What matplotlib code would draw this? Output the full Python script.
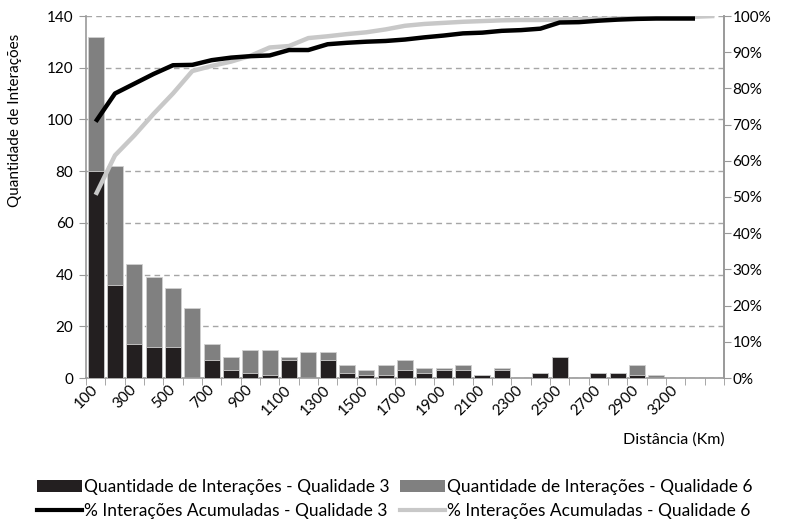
import numpy as np
import matplotlib
matplotlib.use("Agg")
import matplotlib.pyplot as plt
from matplotlib.ticker import PercentFormatter, FixedLocator
from matplotlib.patches import Patch
from matplotlib.lines import Line2D

plt.rcParams['font.family'] = ['Lato', 'DejaVu Sans']

# categorias de distância (Km); só as pares aparecem no eixo
distancias = ["100", "200", "300", "400", "500", "600", "700", "800", "900", "1000",
              "1100", "1200", "1300", "1400", "1500", "1600", "1700", "1800", "1900", "2000",
              "2100", "2200", "2300", "2400", "2500", "2600", "2700", "2800", "2900", "3000",
              "3200", "3300", ""]

qtd_q6 = [132, 82, 44, 39, 35, 27, 13, 8, 11, 11, 8, 10, 10, 5, 3, 5, 7, 4, 4, 5,
          1, 4, 0, 2, 8, 0, 2, 2, 5, 1, 0, 0, 0]
qtd_q3 = [80, 36, 13, 12, 12, 0, 7, 3, 2, 1, 7, 0, 7, 2, 1, 1, 3, 2, 3, 3,
          1, 3, 0, 2, 8, 0, 2, 2, 1, 0, 0, 0, 0]

acum_q3 = [70.8, 78.6, 81.3, 84.0, 86.4, 86.5, 87.8, 88.5, 88.9, 89.1, 90.6, 90.6, 92.2,
           92.6, 92.9, 93.1, 93.5, 94.1, 94.6, 95.2, 95.4, 95.9, 96.1, 96.5, 98.2, 98.3,
           98.7, 99.0, 99.2, 99.3, 99.3, 99.3]
acum_q6 = [50.6, 61.5, 67.0, 73.0, 78.6, 84.8, 86.2, 87.4, 89.0, 91.3, 91.7, 93.9, 94.4,
           95.0, 95.5, 96.3, 97.3, 97.8, 98.1, 98.4, 98.6, 98.8, 98.9, 98.9, 99.0, 99.1,
           99.2, 99.3, 99.5, 99.6, 99.7, 99.8, 100.0]

cor_q3 = "#231f20"
cor_q6 = "#808080"
cor_linha6 = "#c8c8c8"
cor_eixo = "#999999"

fig = plt.figure(figsize=(7.88, 5.21), dpi=100)
ax = fig.add_axes([86 / 788, 1 - 378 / 521, (724 - 86) / 788, (378 - 16) / 521])

x = np.arange(len(distancias))
ax.bar(x, qtd_q6, width=0.83, color=cor_q6, edgecolor="#d0d0d0", linewidth=0.6, zorder=2)
ax.bar(x, qtd_q3, width=0.83, color=cor_q3, edgecolor="#d0d0d0", linewidth=0.6, zorder=3)

ax.set_xlim(-0.5, len(distancias) - 0.5)
ax.set_ylim(0, 140)
ax.set_yticks(range(0, 141, 20))
ax.yaxis.grid(True, linestyle=(0, (4, 3)), color="#a6a6a6", linewidth=1)
ax.set_axisbelow(True)

ax.set_xticks(x)
ax.set_xticklabels([d if i % 2 == 0 else "" for i, d in enumerate(distancias)],
                   rotation=45, ha="right", va="center", rotation_mode="anchor", fontsize=11)
ax.tick_params(axis="x", length=0, pad=7)
ax.xaxis.set_minor_locator(FixedLocator(np.arange(-0.5, len(distancias), 1)))
ax.tick_params(axis="x", which="minor", length=5, color=cor_eixo)
ax.tick_params(axis="y", length=5, color=cor_eixo, labelsize=11, pad=4)

for s in ["top"]:
    ax.spines[s].set_visible(False)
for s in ["left", "bottom", "right"]:
    ax.spines[s].set_color(cor_eixo)
    ax.spines[s].set_linewidth(1.2)

ax2 = ax.twinx()
ax2.set_ylim(0, 1)
ax2.set_yticks(np.arange(0, 1.01, 0.1))
ax2.yaxis.set_major_formatter(PercentFormatter(1.0, decimals=0))
ax2.tick_params(axis="y", length=5, color=cor_eixo, labelsize=11, pad=1)
for s in ["top", "left", "bottom"]:
    ax2.spines[s].set_visible(False)
ax2.spines["right"].set_color(cor_eixo)
ax2.spines["right"].set_linewidth(1.2)

ax2.plot(x[:len(acum_q6)], np.array(acum_q6) / 100, color=cor_linha6, linewidth=3.2,
         solid_capstyle="butt", zorder=4)
ax2.plot(x[:len(acum_q3)], np.array(acum_q3) / 100, color="black", linewidth=3.2,
         solid_capstyle="butt", zorder=5)

fig.text(15 / 788, 1 - 120 / 521, "Quantidade de Interações", rotation=90,
         ha="center", va="center", fontsize=11)
fig.text(725 / 788, 1 - 440 / 521, "Distância (Km)", ha="right", va="center", fontsize=11.5)

handles = [Patch(facecolor=cor_q3), Patch(facecolor=cor_q6),
           Line2D([], [], color="black", linewidth=3), Line2D([], [], color=cor_linha6, linewidth=3)]
labels = ["Quantidade de Interações - Qualidade 3", "Quantidade de Interações - Qualidade 6",
          "% Interações Acumuladas - Qualidade 3", "% Interações Acumuladas - Qualidade 6"]
fig.legend([handles[0], handles[2], handles[1], handles[3]],
           [labels[0], labels[2], labels[1], labels[3]],
           ncol=2, loc="center", bbox_to_anchor=(395 / 788, 1 - 499 / 521),
           frameon=False, fontsize=12.5, handlelength=2.6, handleheight=0.7,
           handletextpad=0.1, columnspacing=0.6, labelspacing=0.45)

fig.savefig("out.png", dpi=100)
